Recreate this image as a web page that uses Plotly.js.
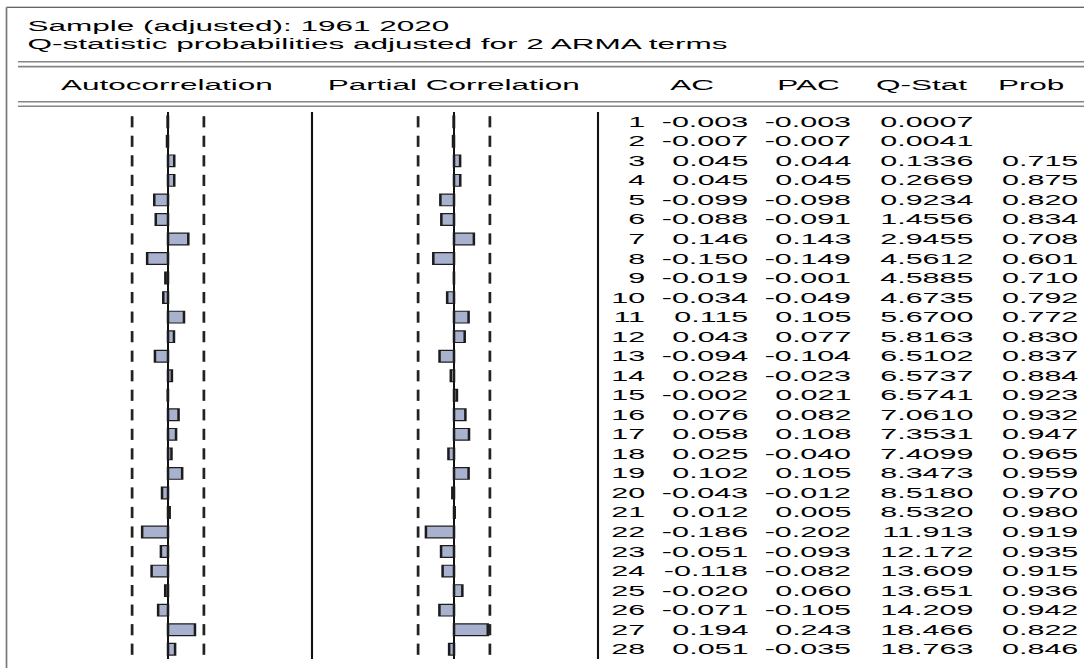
<!DOCTYPE html>
<html>
<head>
<meta charset="utf-8">
<script src="https://cdn.plot.ly/plotly-3.0.1.min.js"></script>
<style>
  html, body { margin: 0; padding: 0; background: #ffffff; overflow: hidden; }
  #chart { width: 516px; height: 668px; transform: scaleX(2.100775); transform-origin: 0 0; }
</style>
</head>
<body>
<div id="chart"></div>
<script>
// ---- data ----
const lags = [1,2,3,4,5,6,7,8,9,10,11,12,13,14,15,16,17,18,19,20,21,22,23,24,25,26,27,28];
const acValues = [-0.003,-0.007,0.045,0.045,-0.099,-0.088,0.146,-0.150,-0.019,-0.034,0.115,0.043,-0.094,0.028,-0.002,0.076,0.058,0.025,0.102,-0.043,0.012,-0.186,-0.051,-0.118,-0.020,-0.071,0.194,0.051];
const pacValues = [-0.003,-0.007,0.044,0.045,-0.098,-0.091,0.143,-0.149,-0.001,-0.049,0.105,0.077,-0.104,-0.023,0.021,0.082,0.108,-0.040,0.105,-0.012,0.005,-0.202,-0.093,-0.082,0.060,-0.105,0.243,-0.035];
const qStat = [0.0007,0.0041,0.1336,0.2669,0.9234,1.4556,2.9455,4.5612,4.5885,4.6735,5.6700,5.8163,6.5102,6.5737,6.5741,7.0610,7.3531,7.4099,8.3473,8.5180,8.5320,11.913,12.172,13.609,13.651,14.209,18.466,18.763];
const probValues = [null,null,0.715,0.875,0.820,0.834,0.708,0.601,0.710,0.792,0.772,0.830,0.837,0.884,0.923,0.932,0.947,0.965,0.959,0.970,0.980,0.919,0.935,0.915,0.936,0.942,0.822,0.846];
const sampleSize = 60;
const titleLines = ["Sample (adjusted): 1961 2020", "Q-statistic probabilities adjusted for 2 ARMA terms"];
const columnHeaders = ["Autocorrelation", "Partial Correlation", "AC", "PAC", "Q-Stat", "Prob"];

// ---- layout helpers (reference pixel -> paper fraction) ----
const W = 1084, H = 668;
const fx = v => v / W;
const fy = v => 1 - v / H;
const band = 2 / Math.sqrt(sampleSize);

const FONT = "Liberation Sans, Arial, sans-serif";
const TXT = "#000000";
const BAR_FILL = "#A8B2CE";
const BAR_LINE = "#1c1c1c";

function fmtSigned(v) { return v.toFixed(3); }
function fmtQ(v) { return v < 10 ? v.toFixed(4) : v.toFixed(3); }

const traces = [
  { type: "bar", orientation: "h", x: acValues, y: lags, xaxis: "x", yaxis: "y", width: 0.6,
    marker: { color: BAR_FILL, line: { color: BAR_LINE, width: 1.2 } }, hoverinfo: "skip" },
  { type: "bar", orientation: "h", x: pacValues, y: lags, xaxis: "x2", yaxis: "y", width: 0.6,
    marker: { color: BAR_FILL, line: { color: BAR_LINE, width: 1.2 } }, hoverinfo: "skip" }
];
// confidence-band dashes
[["x", -1], ["x", 1], ["x2", -1], ["x2", 1]].forEach(([ax, sg]) => {
  traces.push({ type: "scatter", mode: "markers", xaxis: ax, yaxis: "y",
    x: lags.map(() => sg * band), y: lags,
    marker: { symbol: "line-ns", size: 8, line: { color: "#222222", width: 1.3 } },
    hoverinfo: "skip" });
});

const annotations = [];
// title lines
annotations.push({ text: titleLines[0], xref: "paper", yref: "paper", x: fx(24), y: fy(25.5),
  xanchor: "left", yanchor: "middle", showarrow: false, font: { family: FONT, size: 15, color: TXT } });
annotations.push({ text: titleLines[1], xref: "paper", yref: "paper", x: fx(24), y: fy(43.5),
  xanchor: "left", yanchor: "middle", showarrow: false, font: { family: FONT, size: 15, color: TXT } });
// column headers
const headerCenters = [166, 453.5, 692.5, 808, 922, 1032];
columnHeaders.forEach((h, i) => {
  annotations.push({ text: h, xref: "paper", yref: "paper", x: fx(headerCenters[i]), y: fy(85),
    xanchor: "center", yanchor: "middle", showarrow: false, font: { family: FONT, size: 15, color: TXT } });
});
// table rows
const colRights = [649, 752, 855, 977, 1081];
lags.forEach((lag, i) => {
  const cells = [String(lag), fmtSigned(acValues[i]), fmtSigned(pacValues[i]), fmtQ(qStat[i]),
    probValues[i] === null ? "" : probValues[i].toFixed(3)];
  cells.forEach((c, j) => {
    if (c === "") return;
    annotations.push({ text: c, xref: "paper", yref: "y", x: fx(colRights[j]), y: lag,
      xanchor: "right", yanchor: "middle", showarrow: false,
      font: { family: FONT, size: 14.5, color: TXT } });
  });
});

const gray = "#858585";
const shapes = [
  // outer border (top + left)
  { type: "line", xref: "paper", yref: "paper", x0: fx(6.5), x1: 1, y0: fy(7.3), y1: fy(7.3), line: { color: "#333333", width: 1 } },
  { type: "line", xref: "paper", yref: "paper", x0: fx(6.5), x1: fx(6.5), y0: fy(7.3), y1: 0, line: { color: "#777777", width: 0.8 } },
  // double rules
  { type: "line", xref: "paper", yref: "paper", x0: fx(18), x1: 1, y0: fy(61.8), y1: fy(61.8), line: { color: gray, width: 1.6 } },
  { type: "line", xref: "paper", yref: "paper", x0: fx(18), x1: 1, y0: fy(66.6), y1: fy(66.6), line: { color: gray, width: 1.6 } },
  { type: "line", xref: "paper", yref: "paper", x0: fx(18), x1: 1, y0: fy(101.7), y1: fy(101.7), line: { color: gray, width: 1.6 } },
  { type: "line", xref: "paper", yref: "paper", x0: fx(18), x1: 1, y0: fy(106.3), y1: fy(106.3), line: { color: gray, width: 1.6 } },
  // panel separators
  { type: "line", xref: "paper", yref: "paper", x0: fx(312), x1: fx(312), y0: fy(112), y1: fy(659), line: { color: "#111111", width: 1 } },
  { type: "line", xref: "paper", yref: "paper", x0: fx(598), x1: fx(598), y0: fy(112), y1: fy(659), line: { color: "#111111", width: 1 } }
];

const axCommon = { range: [-1, 1], showgrid: false, showticklabels: false, ticks: "", showline: false,
  zeroline: true, zerolinecolor: "#111111", zerolinewidth: 1, fixedrange: true };

const layout = {
  width: 516, height: 668,
  margin: { l: 0, r: 0, t: 0, b: 0, pad: 0 },
  paper_bgcolor: "#ffffff", plot_bgcolor: "rgba(0,0,0,0)",
  showlegend: false, barmode: "overlay",
  xaxis: Object.assign({}, axCommon, { domain: [fx(29), fx(307)], anchor: "y" }),
  xaxis2: Object.assign({}, axCommon, { domain: [fx(315), fx(593)], anchor: "y" }),
  yaxis: { domain: [fy(659), fy(112)], range: [28.5, 0.5], showgrid: false, zeroline: false,
    showticklabels: false, ticks: "", showline: false, fixedrange: true },
  annotations: annotations,
  shapes: shapes
};

Plotly.newPlot("chart", traces, layout, { staticPlot: true, displayModeBar: false });
</script>
</body>
</html>
